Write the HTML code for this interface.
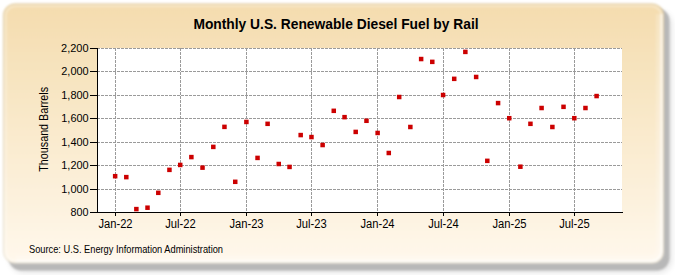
<!DOCTYPE html>
<html><head><meta charset="utf-8"><style>
html,body{margin:0;padding:0;background:#fff;width:675px;height:275px;overflow:hidden}
svg{display:block}
text{font-family:"Liberation Sans",sans-serif;fill:#000}
.g{stroke:#9a9a9a;stroke-width:1;stroke-dasharray:3 1;shape-rendering:crispEdges}
.ax{stroke:#000;stroke-width:1;shape-rendering:crispEdges}
.yl{font-size:11.7px;text-anchor:end}
.xl{font-size:12px;text-anchor:middle}
.pt{fill:#cc0000}
.title{font-size:13.8px;font-weight:bold;text-anchor:middle}
.src{font-size:10.2px}
</style></head><body>
<svg width="675" height="275" viewBox="0 0 675 275">
<defs>
<linearGradient id="bg" x1="0" y1="0" x2="0" y2="1">
<stop offset="0" stop-color="#f4dcae"/>
<stop offset="1" stop-color="#fff8ec"/>
</linearGradient>
<filter id="sh" x="-5%" y="-5%" width="110%" height="110%"><feGaussianBlur stdDeviation="1.3"/></filter>
<filter id="sh2" x="-5%" y="-5%" width="110%" height="110%"><feGaussianBlur stdDeviation="3"/></filter>
<filter id="soft" x="-2%" y="-2%" width="104%" height="104%"><feGaussianBlur stdDeviation="1.0"/></filter>
</defs>
<rect x="10" y="11" width="662" height="262" rx="14" fill="#000" opacity="0.10" filter="url(#sh2)"/>
<rect x="8.5" y="8" width="661" height="262.5" rx="13" fill="#b8b8b8" filter="url(#sh)"/>
<g filter="url(#soft)">
<rect x="3" y="3.5" width="661" height="260" rx="12" fill="url(#bg)"/>
<rect x="3.5" y="4" width="660" height="259" rx="11.5" fill="none" stroke="#8a8060" stroke-opacity="0.22" stroke-width="1"/>
<rect x="5.5" y="6" width="656" height="255" rx="10" fill="none" stroke="#fff" stroke-opacity="0.28" stroke-width="2.5"/>
<path d="M 659.5 14 L 659.5 249 Q 659.5 259 649.5 259 L 16 259" fill="none" stroke="#fff" stroke-opacity="0.2" stroke-width="7"/>
<path d="M 661.5 14 L 661.5 249 Q 661.5 261 649.5 261 L 16 261" fill="none" stroke="#fff" stroke-opacity="0.45" stroke-width="2.5"/>
</g>
<rect x="97" y="48" width="525" height="164" fill="#fff"/>
<line x1="97" y1="189.5" x2="622" y2="189.5" class="g"/>
<line x1="97" y1="165.5" x2="622" y2="165.5" class="g"/>
<line x1="97" y1="142.5" x2="622" y2="142.5" class="g"/>
<line x1="97" y1="118.5" x2="622" y2="118.5" class="g"/>
<line x1="97" y1="95.5" x2="622" y2="95.5" class="g"/>
<line x1="97" y1="71.5" x2="622" y2="71.5" class="g"/>
<line x1="115.5" y1="48" x2="115.5" y2="212" class="g"/>
<line x1="180.5" y1="48" x2="180.5" y2="212" class="g"/>
<line x1="246.5" y1="48" x2="246.5" y2="212" class="g"/>
<line x1="311.5" y1="48" x2="311.5" y2="212" class="g"/>
<line x1="377.5" y1="48" x2="377.5" y2="212" class="g"/>
<line x1="443.5" y1="48" x2="443.5" y2="212" class="g"/>
<line x1="509.5" y1="48" x2="509.5" y2="212" class="g"/>
<line x1="574.5" y1="48" x2="574.5" y2="212" class="g"/>
<line x1="97" y1="48.5" x2="622" y2="48.5" class="g"/>
<line x1="97.5" y1="48" x2="97.5" y2="213" class="ax"/>
<line x1="97" y1="212.5" x2="623" y2="212.5" class="ax"/>
<line x1="90" y1="212.5" x2="97" y2="212.5" class="ax"/>
<text x="88.6" y="215.6" class="yl" textLength="18" lengthAdjust="spacingAndGlyphs">800</text>
<line x1="90" y1="189.5" x2="97" y2="189.5" class="ax"/>
<text x="88.6" y="192.6" class="yl" textLength="27.3" lengthAdjust="spacingAndGlyphs">1,000</text>
<line x1="90" y1="165.5" x2="97" y2="165.5" class="ax"/>
<text x="88.6" y="168.6" class="yl" textLength="27.3" lengthAdjust="spacingAndGlyphs">1,200</text>
<line x1="90" y1="142.5" x2="97" y2="142.5" class="ax"/>
<text x="88.6" y="145.6" class="yl" textLength="27.3" lengthAdjust="spacingAndGlyphs">1,400</text>
<line x1="90" y1="118.5" x2="97" y2="118.5" class="ax"/>
<text x="88.6" y="121.6" class="yl" textLength="27.3" lengthAdjust="spacingAndGlyphs">1,600</text>
<line x1="90" y1="95.5" x2="97" y2="95.5" class="ax"/>
<text x="88.6" y="98.6" class="yl" textLength="27.3" lengthAdjust="spacingAndGlyphs">1,800</text>
<line x1="90" y1="71.5" x2="97" y2="71.5" class="ax"/>
<text x="88.6" y="74.6" class="yl" textLength="27.3" lengthAdjust="spacingAndGlyphs">2,000</text>
<line x1="90" y1="48.5" x2="97" y2="48.5" class="ax"/>
<text x="88.6" y="51.6" class="yl" textLength="27.5" lengthAdjust="spacingAndGlyphs">2,200</text>
<line x1="115.5" y1="213" x2="115.5" y2="216" class="ax"/>
<text x="115.5" y="227.8" class="xl" textLength="34.2" lengthAdjust="spacingAndGlyphs">Jan-22</text>
<line x1="180.5" y1="213" x2="180.5" y2="216" class="ax"/>
<text x="180.5" y="227.8" class="xl" textLength="30.5" lengthAdjust="spacingAndGlyphs">Jul-22</text>
<line x1="246.5" y1="213" x2="246.5" y2="216" class="ax"/>
<text x="246.5" y="227.8" class="xl" textLength="34.2" lengthAdjust="spacingAndGlyphs">Jan-23</text>
<line x1="311.5" y1="213" x2="311.5" y2="216" class="ax"/>
<text x="311.5" y="227.8" class="xl" textLength="30.5" lengthAdjust="spacingAndGlyphs">Jul-23</text>
<line x1="377.5" y1="213" x2="377.5" y2="216" class="ax"/>
<text x="377.5" y="227.8" class="xl" textLength="34.2" lengthAdjust="spacingAndGlyphs">Jan-24</text>
<line x1="443.5" y1="213" x2="443.5" y2="216" class="ax"/>
<text x="443.5" y="227.8" class="xl" textLength="30.5" lengthAdjust="spacingAndGlyphs">Jul-24</text>
<line x1="509.5" y1="213" x2="509.5" y2="216" class="ax"/>
<text x="509.5" y="227.8" class="xl" textLength="34.2" lengthAdjust="spacingAndGlyphs">Jan-25</text>
<line x1="574.5" y1="213" x2="574.5" y2="216" class="ax"/>
<text x="574.5" y="227.8" class="xl" textLength="30.5" lengthAdjust="spacingAndGlyphs">Jul-25</text>
<rect x="112.90" y="173.94" width="4.5" height="4.5" class="pt"/>
<rect x="124.05" y="174.87" width="4.5" height="4.5" class="pt"/>
<rect x="134.11" y="206.85" width="4.5" height="4.5" class="pt"/>
<rect x="145.26" y="205.45" width="4.5" height="4.5" class="pt"/>
<rect x="156.05" y="190.57" width="4.5" height="4.5" class="pt"/>
<rect x="167.19" y="167.61" width="4.5" height="4.5" class="pt"/>
<rect x="177.98" y="162.69" width="4.5" height="4.5" class="pt"/>
<rect x="189.13" y="154.84" width="4.5" height="4.5" class="pt"/>
<rect x="200.27" y="165.39" width="4.5" height="4.5" class="pt"/>
<rect x="211.06" y="144.65" width="4.5" height="4.5" class="pt"/>
<rect x="222.21" y="124.62" width="4.5" height="4.5" class="pt"/>
<rect x="232.99" y="179.56" width="4.5" height="4.5" class="pt"/>
<rect x="244.14" y="119.70" width="4.5" height="4.5" class="pt"/>
<rect x="255.29" y="155.66" width="4.5" height="4.5" class="pt"/>
<rect x="265.35" y="121.57" width="4.5" height="4.5" class="pt"/>
<rect x="276.50" y="161.75" width="4.5" height="4.5" class="pt"/>
<rect x="287.29" y="164.68" width="4.5" height="4.5" class="pt"/>
<rect x="298.43" y="132.82" width="4.5" height="4.5" class="pt"/>
<rect x="309.22" y="134.81" width="4.5" height="4.5" class="pt"/>
<rect x="320.37" y="142.78" width="4.5" height="4.5" class="pt"/>
<rect x="331.51" y="108.57" width="4.5" height="4.5" class="pt"/>
<rect x="342.30" y="114.90" width="4.5" height="4.5" class="pt"/>
<rect x="353.45" y="129.66" width="4.5" height="4.5" class="pt"/>
<rect x="364.23" y="118.53" width="4.5" height="4.5" class="pt"/>
<rect x="375.38" y="130.71" width="4.5" height="4.5" class="pt"/>
<rect x="386.53" y="150.74" width="4.5" height="4.5" class="pt"/>
<rect x="396.95" y="94.75" width="4.5" height="4.5" class="pt"/>
<rect x="408.10" y="124.74" width="4.5" height="4.5" class="pt"/>
<rect x="418.89" y="56.79" width="4.5" height="4.5" class="pt"/>
<rect x="430.03" y="59.61" width="4.5" height="4.5" class="pt"/>
<rect x="440.82" y="92.76" width="4.5" height="4.5" class="pt"/>
<rect x="451.97" y="76.59" width="4.5" height="4.5" class="pt"/>
<rect x="463.11" y="49.65" width="4.5" height="4.5" class="pt"/>
<rect x="473.90" y="74.72" width="4.5" height="4.5" class="pt"/>
<rect x="485.05" y="158.59" width="4.5" height="4.5" class="pt"/>
<rect x="495.83" y="100.84" width="4.5" height="4.5" class="pt"/>
<rect x="506.98" y="115.95" width="4.5" height="4.5" class="pt"/>
<rect x="518.13" y="164.45" width="4.5" height="4.5" class="pt"/>
<rect x="528.19" y="121.57" width="4.5" height="4.5" class="pt"/>
<rect x="539.34" y="105.76" width="4.5" height="4.5" class="pt"/>
<rect x="550.13" y="124.74" width="4.5" height="4.5" class="pt"/>
<rect x="561.27" y="104.59" width="4.5" height="4.5" class="pt"/>
<rect x="572.06" y="115.95" width="4.5" height="4.5" class="pt"/>
<rect x="583.21" y="105.76" width="4.5" height="4.5" class="pt"/>
<rect x="594.35" y="93.81" width="4.5" height="4.5" class="pt"/>
<text x="336" y="28.8" class="title">Monthly U.S. Renewable Diesel Fuel by Rail</text>
<text transform="translate(48.3,129.3) rotate(-90)" class="xl" textLength="84.8" lengthAdjust="spacingAndGlyphs">Thousand Barrels</text>
<text x="29" y="252.7" class="src" textLength="194" lengthAdjust="spacingAndGlyphs">Source: U.S. Energy Information Administration</text>
</svg>
</body></html>
